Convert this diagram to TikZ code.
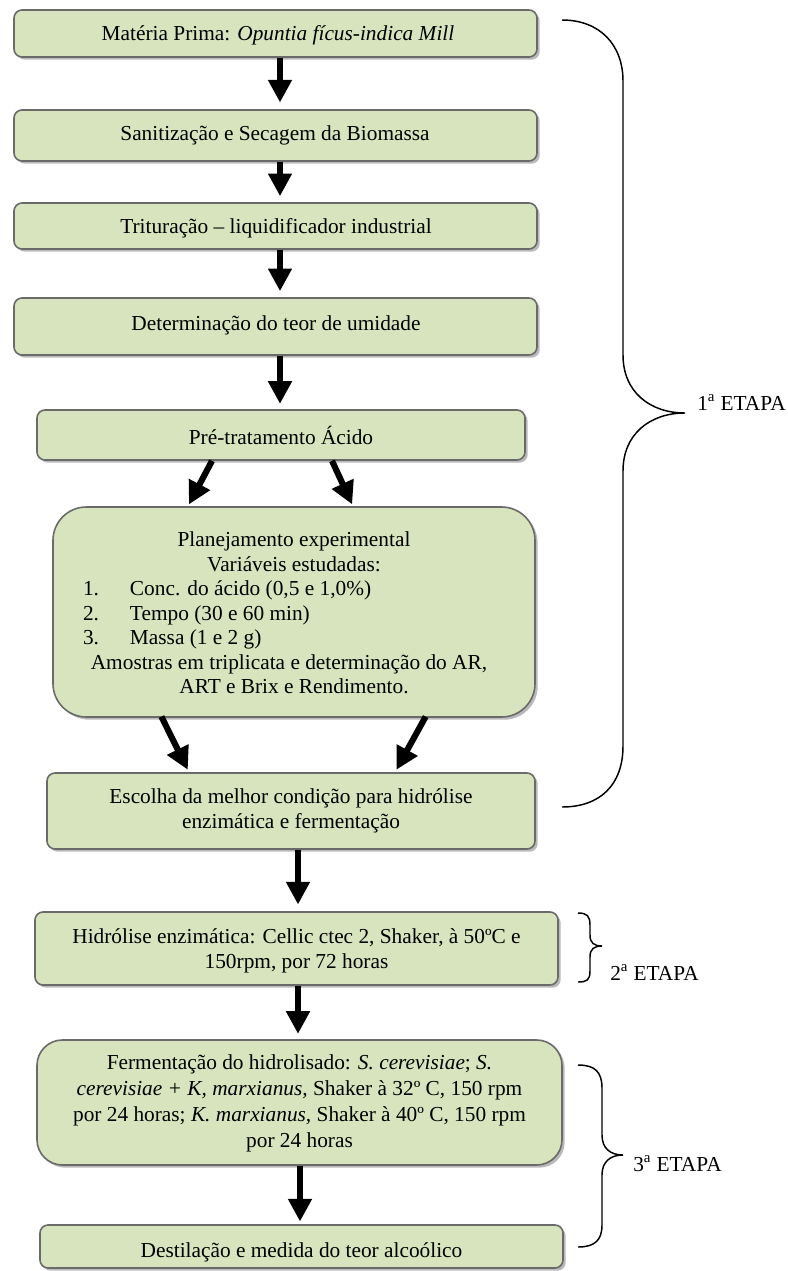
\documentclass[tikz,border=0pt]{standalone}
\usepackage{fontspec}
\setmainfont{Liberation Serif}
\usetikzlibrary{arrows.meta,shadows}
\definecolor{boxfill}{HTML}{D7E4BD}
\definecolor{boxline}{HTML}{6A6A6A}
\begin{document}
\begin{tikzpicture}[x=0.75pt,y=-0.75pt,
  box/.style={draw=boxline, line width=1.2pt, fill=boxfill, rounded corners=6pt, inner sep=0pt,
    drop shadow={shadow xshift=2pt, shadow yshift=-2pt, fill=black!45, opacity=0.6}},
  txt/.style={font=\fontsize{16}{18.4}\selectfont, align=center, inner sep=0pt},
  arr/.style={line width=4.6pt, -{Triangle[length=17pt,width=17pt]}},
  brace/.style={line width=1.1pt},
  lbl/.style={font=\fontsize{16}{18.4}\selectfont, anchor=base west, inner sep=0pt}]
\useasboundingbox (0,0) rectangle (788,1271);

% boxes
\node[box, minimum width=392.25pt, minimum height=35.25pt] (b1) at (275.5,33.5) {};
\node[box, minimum width=392.25pt, minimum height=38.25pt] (b2) at (275.5,135.5) {};
\node[box, minimum width=392.25pt, minimum height=34.5pt] (b3) at (275.5,226) {};
\node[box, minimum width=392.25pt, minimum height=42.75pt] (b4) at (275.5,326.5) {};
\node[box, minimum width=366pt, minimum height=37.5pt] (b5) at (281,435) {};
\node[box, rounded corners=25pt, minimum width=361.5pt, minimum height=157.5pt] (b6) at (294,612) {};
\node[box, minimum width=366pt, minimum height=57pt] (b7) at (291,811) {};
\node[box, minimum width=392.25pt, minimum height=54.75pt] (b8) at (296.5,948.5) {};
\node[box, rounded corners=19pt, minimum width=393.75pt, minimum height=93.75pt] (b9) at (299.5,1102.5) {};
\node[box, minimum width=392.25pt, minimum height=32.25pt] (b10) at (301.5,1246.5) {};

% texts
\node[txt] (t1) at (278,35) {Matéria Prima: \textit{Opuntia fícus-indica Mill}};
\node[txt] (t2) at (275,135) {Sanitização e Secagem da Biomassa};
\node[txt] (t3) at (276,228) {Trituração – liquidificador industrial};
\node[txt] (t4) at (276,325) {Determinação do teor de umidade};
\node[txt] (t5) at (281,435) {Pré-tratamento Ácido};
\node[txt] (t6) at (294,613) {Planejamento experimental\\Variáveis estudadas:\\
\makebox[316.5pt][l]{\makebox[35.25pt][l]{1.}Conc. do ácido (0,5 e 1,0\%)}\\
\makebox[316.5pt][l]{\makebox[35.25pt][l]{2.}Tempo (30 e 60 min)}\\
\makebox[316.5pt][l]{\makebox[35.25pt][l]{3.}Massa (1 e 2 g)}\\
\hspace*{-7.5pt}Amostras em triplicata e determinação do AR,\\
ART e Brix e Rendimento.};
\node[txt] (t7) at (291,811) {Escolha da melhor condição para hidrólise\\enzimática e fermentação};
\node[txt] (t8) at (296.5,951) {Hidrólise enzimática: Cellic ctec 2, Shaker, à 50ºC e\\150rpm, por 72 horas};
\node[txt, font=\fontsize{16}{19.5}\selectfont] (t9) at (299.5,1103) {Fermentação do hidrolisado: \textit{S. cerevisiae}; \textit{S.}\\
\textit{cerevisiae + K, marxianus,} Shaker à 32º C, 150 rpm\\
por 24 horas; \textit{K. marxianus,} Shaker à 40º C, 150 rpm\\
por 24 horas};
\node[txt] (t10) at (301.5,1252) {Destilação e medida do teor alcoólico};

% arrow x positions
\coordinate (xa) at (280,0);
\coordinate (xb) at (298,0);
\coordinate (xc) at (300,0);
\coordinate (p5a) at (212,0);
\coordinate (p5b) at (188,0);
\coordinate (p5c) at (332,0);
\coordinate (p5d) at (353,0);
\coordinate (p6a) at (162,0);
\coordinate (p6b) at (189,0);
\coordinate (p6c) at (425,0);
\coordinate (p6d) at (395,0);

\draw[arr, shorten >=5pt] (b1.south -| xa) -- (b2.north -| xa);
\draw[arr, shorten >=4.5pt] (b2.south -| xa) -- (b3.north -| xa);
\draw[arr, shorten >=4.5pt] (b3.south -| xa) -- (b4.north -| xa);
\draw[arr, shorten >=4pt] (b4.south -| xa) -- (b5.north -| xa);
\draw[arr, shorten >=1.5pt] (b5.south -| p5a) -- (b6.north -| p5b);
\draw[arr, shorten >=1.5pt] (b5.south -| p5c) -- (b6.north -| p5d);
\draw[arr, shorten >=2pt, shorten <=-1pt] (b6.south -| p6a) -- (b7.north -| p6b);
\draw[arr, shorten >=2pt, shorten <=-1pt] (b6.south -| p6c) -- (b7.north -| p6d);
\draw[arr, shorten >=5pt] (b7.south -| xb) -- (b8.north -| xb);
\draw[arr, shorten >=4pt] (b8.south -| xb) -- (b9.north -| xb);
\draw[arr, shorten >=2pt] (b9.south -| xc) -- (b10.north -| xc);

% braces
\draw[brace] (562,20) .. controls (600,20) and (623,45) .. (623,81) -- (623,355)
  .. controls (623,392) and (650,413) .. (685,413)
  .. controls (650,413) and (623,434) .. (623,471) -- (623,746)
  .. controls (623,785) and (600,807) .. (562,807);
\draw[brace] (578,913) .. controls (587,913) and (590,916) .. (590,925) -- (590,935)
  .. controls (590,943) and (594,946) .. (602,946)
  .. controls (594,946) and (590,949) .. (590,957) -- (590,971)
  .. controls (590,980) and (587,982) .. (578,982);
\draw[brace] (578,1065) .. controls (595,1065) and (602,1072) .. (602,1088) -- (602,1135)
  .. controls (602,1148) and (610,1155) .. (623,1155)
  .. controls (610,1155) and (602,1162) .. (602,1175) -- (602,1225)
  .. controls (602,1240) and (595,1247) .. (578,1247);

% labels
\node[lbl] (e1) at (697,410) {1\textsuperscript{a} ETAPA};
\node[lbl] (e2) at (610,980) {2\textsuperscript{a} ETAPA};
\node[lbl] (e3) at (633,1171) {3\textsuperscript{a} ETAPA};
\end{tikzpicture}
\end{document}
